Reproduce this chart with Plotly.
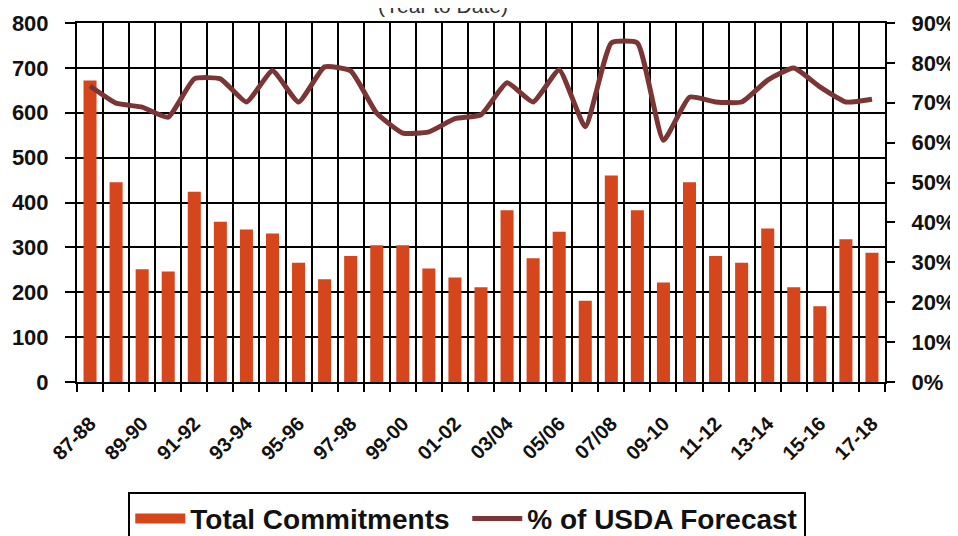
import plotly.graph_objects as go

# season labels (every season gets a bar, every other one gets a tick label)
seasons = ["87-88", "88-89", "89-90", "90-91", "91-92", "92-93", "93-94", "94-95",
           "95-96", "96-97", "97-98", "98-99", "99-00", "00-01", "01-02", "02-03",
           "03/04", "04/05", "05/06", "06/07", "07/08", "08/09", "09-10", "10-11",
           "11-12", "12-13", "13-14", "14-15", "15-16", "16-17", "17-18"]

total_commitments = [672, 445, 251, 246, 424, 357, 340, 331, 266, 229, 281, 305,
                     305, 253, 233, 211, 383, 276, 335, 181, 460, 383, 222, 445,
                     281, 266, 342, 211, 169, 318, 288]

pct_usda_forecast = [74.2, 69.9, 68.9, 66.4, 76.0, 76.0, 70.2, 78.0, 70.2, 79.0,
                     78.0, 67.4, 62.4, 62.7, 66.0, 67.0, 75.0, 70.2, 78.2, 64.0,
                     85.0, 85.0, 60.6, 71.4, 70.2, 70.2, 75.7, 78.7, 74.0, 70.2, 70.9]

left_ticks = [0, 100, 200, 300, 400, 500, 600, 700, 800]
right_ticks = [0, 10, 20, 30, 40, 50, 60, 70, 80, 90]

BAR_COLOR = "#d5461c"
LINE_COLOR = "#7b3535"
FONT = "Liberation Sans, Arial, sans-serif"

xpos = list(range(len(seasons)))
label_pos = xpos[::2]
label_text = seasons[::2]

fig = go.Figure()

fig.add_trace(go.Bar(
    x=xpos,
    y=total_commitments,
    name="Total Commitments",
    marker_color=BAR_COLOR,
    marker_line_width=0,
    showlegend=False,
))

# legend stand-in so the bar swatch is a wide block like the original
fig.add_trace(go.Scatter(
    x=[None], y=[None],
    name="Total Commitments",
    mode="lines",
    line=dict(color=BAR_COLOR, width=16),
))

fig.add_trace(go.Scatter(
    x=xpos,
    y=[v / 100 for v in pct_usda_forecast],
    name="% of USDA Forecast",
    mode="lines",
    line=dict(color=LINE_COLOR, width=5, shape="spline", smoothing=0.45),
    yaxis="y2",
))

fig.add_annotation(
    text="(Year to Date)",
    x=0.453, y=1.01, xref="paper", yref="paper",
    xanchor="center", yanchor="bottom",
    showarrow=False,
    font=dict(family=FONT, size=21, color="#333333"),
)

# figure is taller than the window on purpose: the legend box runs off the bottom edge
fig.update_layout(
    width=958,
    height=560,
    margin=dict(l=69, r=81, t=15, b=186),
    paper_bgcolor="white",
    plot_bgcolor="white",
    bargap=0.5,
    showlegend=True,
    legend=dict(
        orientation="h",
        x=0.483, xanchor="center",
        y=-0.306, yanchor="top",
        font=dict(family=FONT, size=28, color="#111111", weight="bold"),
        bordercolor="black",
        borderwidth=2,
        bgcolor="white",
        itemwidth=50,
        entrywidth=272,
        tracegroupgap=0,
    ),
    xaxis=dict(
        automargin=False,
        range=[-0.5, len(seasons) - 0.5],
        tickmode="array",
        tickvals=label_pos,
        ticktext=label_text,
        tickangle=-45,
        ticks="",
        ticklabelstandoff=20,
        showgrid=False,
        showline=True,
        linecolor="black",
        linewidth=2,
        mirror=True,
        zeroline=False,
        tickfont=dict(family=FONT, size=20, color="#111111", weight="bold"),
        minor=dict(
            tickmode="linear",
            tick0=-0.5,
            dtick=1,
            ticks="outside",
            ticklen=8,
            tickwidth=2,
            tickcolor="black",
            showgrid=True,
            gridcolor="black",
            gridwidth=2,
        ),
    ),
    yaxis=dict(
        automargin=False,
        range=[0, 800],
        tickmode="array",
        tickvals=left_ticks,
        ticks="outside",
        ticklen=10,
        tickwidth=2,
        tickcolor="black",
        ticklabelstandoff=12,
        showgrid=True,
        gridcolor="black",
        gridwidth=2,
        showline=True,
        linecolor="black",
        linewidth=2,
        zeroline=False,
        tickfont=dict(family=FONT, size=22, color="#111111", weight="bold"),
    ),
    yaxis2=dict(
        automargin=False,
        range=[0, 0.9],
        overlaying="y",
        side="right",
        tickmode="array",
        tickvals=[t / 100 for t in right_ticks],
        ticktext=[f"{t}%" for t in right_ticks],
        ticks="outside",
        ticklen=8,
        tickwidth=2,
        tickcolor="black",
        ticklabelstandoff=12,
        showgrid=False,
        showline=True,
        linecolor="black",
        linewidth=2,
        zeroline=False,
        tickfont=dict(family=FONT, size=22, color="#111111", weight="bold"),
    ),
)

fig.write_html("out.html")
